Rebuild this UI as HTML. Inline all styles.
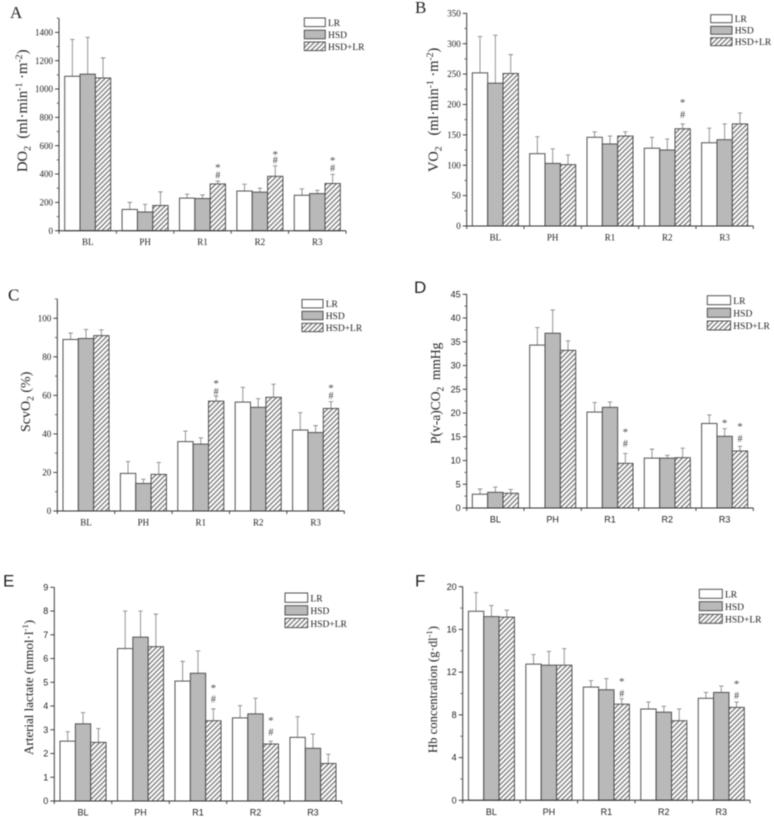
<!DOCTYPE html>
<html lang="en">
<head>
<meta charset="utf-8">
<title>Six-panel bar charts</title>
<style>
html,body{margin:0;padding:0;background:#fff;width:774px;height:817px;overflow:hidden}
svg{display:block;filter:blur(0.45px)}
text{font-family:"Liberation Serif",serif;fill:#222}
.sans text{font-family:"Liberation Sans",sans-serif}
.title{font-family:"Liberation Serif",serif}
</style>
</head>
<body>
<svg id="figure" xmlns="http://www.w3.org/2000/svg" width="774" height="817" viewBox="0 0 774 817">
  <defs>
    <pattern id="hatch" patternUnits="userSpaceOnUse" width="3.4" height="3.4" patternTransform="rotate(45)">
      <rect width="3.4" height="3.4" fill="#fff"></rect>
      <rect width="1.15" height="3.4" fill="#6a6a6a"></rect>
    </pattern>
  </defs>
</svg>
<script>
const categories = ['BL', 'PH', 'R1', 'R2', 'R3'];
const seriesNames = ['LR', 'HSD', 'HSD+LR'];

const aTicks = [0, 200, 400, 600, 800, 1000, 1200, 1400];
const aLr = [1090, 150, 230, 280, 250];
const aLrUpper = [1350, 200, 258, 328, 296];
const aHsd = [1105, 132, 227, 272, 262];
const aHsdUpper = [1365, 186, 252, 300, 285];
const aMix = [1078, 178, 330, 384, 333];
const aMixUpper = [1220, 274, 350, 458, 398];
const aNotes = [[2, 2, '#', 393], [2, 2, '*', 457], [3, 2, '#', 499], [3, 2, '*', 550], [4, 2, '#', 442], [4, 2, '*', 506]];

const bTicks = [0, 50, 100, 150, 200, 250, 300, 350];
const bLr = [252, 119, 146, 128, 137];
const bLrUpper = [312, 147, 155, 146, 161];
const bHsd = [235, 103, 135, 125, 142];
const bHsdUpper = [314, 127, 148, 143, 168];
const bMix = [251, 101, 148, 160, 168];
const bMixUpper = [282, 117, 155, 168, 186];
const bNotes = [[3, 2, '#', 183], [3, 2, '*', 206]];

const cTicks = [0, 20, 40, 60, 80, 100];
const cLr = [89, 19.5, 36, 56.5, 42];
const cLrUpper = [92.3, 25.7, 41.5, 64.2, 51];
const cHsd = [89.5, 14.3, 34.7, 53.8, 40.7];
const cHsdUpper = [94.2, 16.5, 38, 58.3, 44.3];
const cMix = [91, 19, 57, 59, 53.2];
const cMixUpper = [94, 25.2, 59.6, 65.8, 56.7];
const cNotes = [[2, 2, '#', 62], [2, 2, '*', 67], [4, 2, '#', 59.7], [4, 2, '*', 64.7]];

const dTicks = [0, 5, 10, 15, 20, 25, 30, 35, 40, 45];
const dLr = [2.9, 34.3, 20.2, 10.5, 17.8];
const dLrUpper = [4, 38, 22.2, 12.4, 19.6];
const dHsd = [3.3, 36.8, 21.2, 10.5, 15.1];
const dHsdUpper = [4.4, 41.7, 22.3, 11.1, 16.7];
const dMix = [3.1, 33.2, 9.4, 10.6, 12];
const dMixUpper = [3.9, 35.2, 11.5, 12.6, 13];
const dNotes = [[2, 2, '#', 13.5], [2, 2, '*', 16.4], [4, 1, '*', 18.3], [4, 2, '#', 14.6], [4, 2, '*', 17.5]];

const eTicks = [0, 1, 2, 3, 4, 5, 6, 7, 8, 9];
const eLr = [2.52, 6.42, 5.05, 3.5, 2.68];
const eLrUpper = [2.92, 8, 5.88, 4.02, 3.55];
const eHsd = [3.25, 6.9, 5.38, 3.67, 2.22];
const eHsdUpper = [3.72, 8, 6.32, 4.33, 2.82];
const eMix = [2.47, 6.5, 3.38, 2.4, 1.58];
const eMixUpper = [3.05, 7.87, 3.88, 2.52, 1.97];
const eNotes = [[2, 2, '#', 4.28], [2, 2, '*', 4.84], [3, 2, '#', 2.89], [3, 2, '*', 3.47]];

const fTicks = [0, 4, 8, 12, 16, 20];
const fLr = [17.7, 12.75, 10.6, 8.55, 9.55];
const fLrUpper = [19.45, 13.65, 11.2, 9.2, 10.1];
const fHsd = [17.2, 12.65, 10.35, 8.25, 10.1];
const fHsdUpper = [18.25, 13.95, 11.4, 8.8, 10.7];
const fMix = [17.15, 12.65, 9, 7.45, 8.7];
const fMixUpper = [17.8, 14.2, 9.5, 8.55, 9.2];
const fNotes = [[2, 2, '#', 10], [2, 2, '*', 11.3], [4, 2, '#', 9.8], [4, 2, '*', 11.05]];

/* Layout only: plot frames, legend boxes, titles. */
const panels = [
  {id:'a', letter:'A', lx:10, ly:18, left:59, right:346, y0:230.7, top:18.2, max:1500, minor:100, ticks:aTicks,
   vals:[aLr,aHsd,aMix], ups:[aLrUpper,aHsdUpper,aMixUpper], notes:aNotes, sans:false,
   legX:304.3, legW:21, legH:8.6, legY:[18,30.2,42],
   title:{x:27,y:172,size:14.6,parts:[['DO',0],['2',1],['  (ml·min',0],['-1',2],[' ·m',0],['-2',2],[')',0]]}},
  {id:'b', letter:'B', lx:415, ly:13, left:466.7, right:753.3, y0:226, top:13.3, max:350, minor:25, ticks:bTicks,
   vals:[bLr,bHsd,bMix], ups:[bLrUpper,bHsdUpper,bMixUpper], notes:bNotes, sans:false,
   legX:710.7, legW:21.3, legH:8, legY:[14.7,26.3,37.7],
   title:{x:438,y:172,size:14.4,parts:[['VO',0],['2',1],['   (ml·min',0],['-1',2],[' ·m',0],['-2',2],[')',0]]}},
  {id:'c', letter:'C', lx:8, ly:300.7, left:57.3, right:344.3, y0:511, top:299, max:110, minor:10, ticks:cTicks,
   vals:[cLr,cHsd,cMix], ups:[cLrUpper,cHsdUpper,cMixUpper], notes:cNotes, sans:false,
   legX:302, legW:21, legH:8.4, legY:[299.5,311.3,323.3],
   title:{x:30,y:432,size:14,parts:[['ScvO',0],['2',1],[' (%)',0]]}},
  {id:'d', letter:'D', lx:414, ly:293, left:466.7, right:753.3, y0:508, top:294.3, max:45, minor:2.5, ticks:dTicks,
   vals:[dLr,dHsd,dMix], ups:[dLrUpper,dHsdUpper,dMixUpper], notes:dNotes, sans:true,
   legX:707.3, legW:23.3, legH:9, legY:[295.7,308.3,321],
   title:{x:440,y:444,size:13.5,parts:[['P(v-a)CO',0],['2',1],['  mmHg',0]]}},
  {id:'e', letter:'E', lx:3, ly:586.7, left:54.3, right:341.7, y0:801, top:587.3, max:9, minor:0, ticks:eTicks,
   vals:[eLr,eHsd,eMix], ups:[eLrUpper,eHsdUpper,eMixUpper], notes:eNotes, sans:true,
   legX:285, legW:22.7, legH:9.3, legY:[593,605.7,618.3],
   title:{x:33,y:755,size:13,parts:[['Arterial lactate (mmol·l',0],['-1',2],[')',0]]}},
  {id:'f', letter:'F', lx:415, ly:586.7, left:462.7, right:750, y0:800.3, top:586.7, max:20, minor:2, ticks:fTicks,
   vals:[fLr,fHsd,fMix], ups:[fLrUpper,fHsdUpper,fMixUpper], notes:fNotes, sans:true,
   legX:699.3, legW:23, legH:9, legY:[589.3,601.7,614.3],
   title:{x:437,y:753,size:12.7,parts:[['Hb concentration (g·dl',0],['-1',2],[')',0]]}}
];

const svg = document.getElementById('figure');
const NS = 'http://www.w3.org/2000/svg';
const fills = ['#ffffff', '#b9b9b9', 'url(#hatch)'];
const barEdge = '#4a4a4a';

function make(tag, geom, parent) {
  const n = document.createElementNS(NS, tag);
  Object.keys(geom).forEach(function (k) { n.setAttribute(k, geom[k]); });
  parent.appendChild(n);
  return n;
}

panels.forEach(function (p) {
  const yScale = function (v) { return p.y0 - (v / p.max) * (p.y0 - p.top); };
  const groupW = (p.right - p.left) / categories.length;
  const barW = 15.35;
  const xBar = function (g, s) { return p.left + groupW * (g + 0.5) + (s - 1.5) * barW; };

  const g = make('g', {}, svg);
  
  
  if (p.sans) { g.setAttribute('class', 'sans'); }

  const letter = make('text', {x: p.lx, y: p.ly, 'font-size': 17, class: 'title'}, g);
  
  
  letter.textContent = p.letter;

  /* error bars then bars */
  seriesNames.forEach(function (name, s) {
    categories.forEach(function (cat, c) {
      const cx = xBar(c, s) + barW / 2;
      const up = yScale(p.ups[s][c]);
      const stem = make('path', {d: 'M' + cx + ' ' + yScale(p.vals[s][c]) + 'V' + up + 'M' + (cx - 2.2) + ' ' + up + 'H' + (cx + 2.2), stroke: '#8a8a8a', 'stroke-width': 0.9, fill: 'none'}, g);
      
      
      const bar = make('rect', {x: xBar(c, s), y: yScale(p.vals[s][c]), width: barW, height: p.y0 - yScale(p.vals[s][c]), fill: fills[s], stroke: barEdge, 'stroke-width': 0.95}, g);
      
      
    });
  });

  /* significance marks */
  p.notes.forEach(function (n) {
    const mark = make('text', {x: xBar(n[0], n[1]) + barW / 2, y: yScale(n[3]) + (n[2] === '*' ? 5.2 : 3.3), 'text-anchor': 'middle', 'font-size': n[2] === '*' ? 11 : 10, style: 'fill:#444;font-family:"Liberation Serif",serif'}, g);
    
    
    mark.textContent = n[2];
  });

  /* y axis */
  const yAxis = make('line', {x1: p.left, x2: p.left, y1: p.top, y2: p.y0, stroke: '#333', 'stroke-width': 0.95}, g);
  
  
  p.ticks.forEach(function (t) {
    const tick = make('line', {x1: p.left - 4, x2: p.left, y1: yScale(t), y2: yScale(t), stroke: '#333', 'stroke-width': 0.9}, g);
    
    
    const label = make('text', {x: p.left - 6, y: yScale(t) + 3.1, 'text-anchor': 'end', 'font-size': 9}, g);
    
    
    label.textContent = t;
  });
  if (p.minor) {
    for (let i = 0; i * p.minor <= p.max + 1e-9; i++) {
      const minorTick = make('line', {x1: p.left - 2.3, x2: p.left, y1: yScale(i * p.minor), y2: yScale(i * p.minor), stroke: '#444', 'stroke-width': 0.8}, g);
      
      
    }
  }

  /* x axis */
  const xAxis = make('line', {x1: p.left - 0.5, x2: p.right, y1: p.y0, y2: p.y0, stroke: '#333', 'stroke-width': 1}, g);
  
  
  for (let i = 0; i <= categories.length; i++) {
    const xt = make('line', {x1: p.left + groupW * i, x2: p.left + groupW * i, y1: p.y0, y2: p.y0 + 3, stroke: '#333', 'stroke-width': 0.9}, g);
    
    
  }
  categories.forEach(function (cat, c) {
    const label = make('text', {x: p.left + groupW * (c + 0.5), y: p.y0 + 14.5, 'text-anchor': 'middle', 'font-size': 9}, g);
    
    
    label.textContent = cat;
  });

  /* y title */
  const title = make('text', {transform: 'translate(' + p.title.x + ',' + p.title.y + ') rotate(-90)', 'font-size': p.title.size, class: 'title', style: 'white-space:pre;font-family:"Liberation Serif",serif'}, g);
  
  
  let lastShift = 0;
  p.title.parts.forEach(function (part) {
    const shift = part[1] === 1 ? 3.5 : part[1] === 2 ? -5 : 0;
    const ts = make('tspan', {dy: shift - lastShift}, title);
    if (part[1]) { ts.setAttribute('font-size', p.title.size * 0.68); }
    ts.textContent = part[0];
    lastShift = shift;
  });

  /* legend */
  seriesNames.forEach(function (name, s) {
    const swatch = make('rect', {x: p.legX, y: p.legY[s], width: p.legW, height: p.legH, fill: fills[s], stroke: barEdge, 'stroke-width': 0.95}, g);
    
    
    const label = make('text', {x: p.legX + p.legW + 2.7, y: p.legY[s] + p.legH - 0.8, 'font-size': 9.5, style: 'font-family:"Liberation Serif",serif'}, g);
    
    
    label.textContent = name;
  });
});
</script>
</body>
</html>
